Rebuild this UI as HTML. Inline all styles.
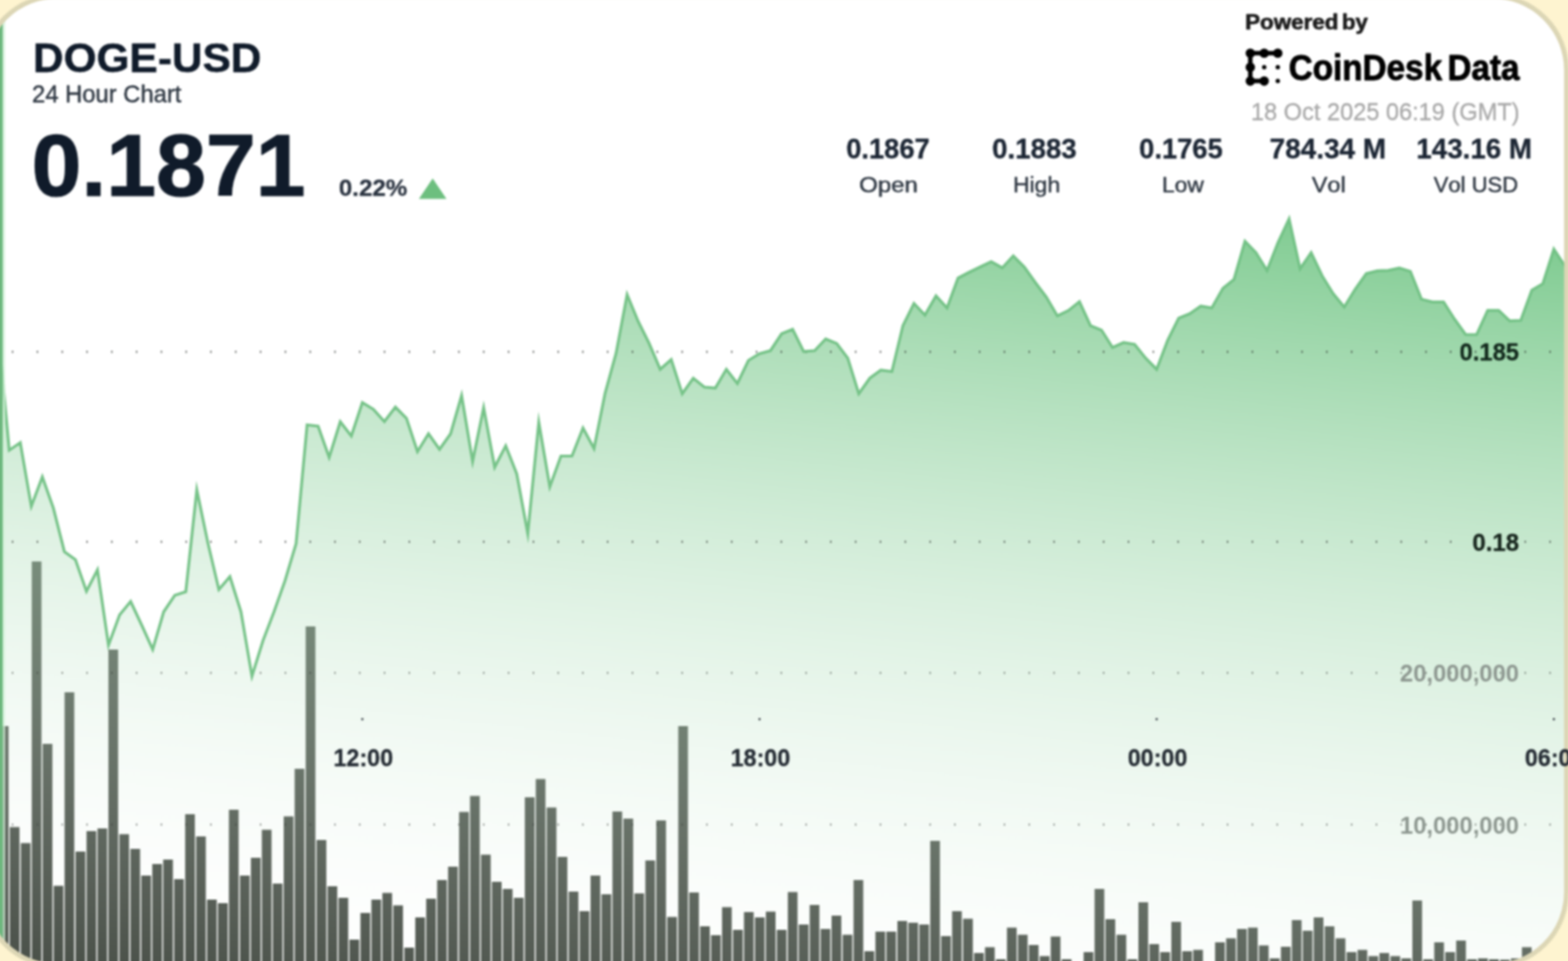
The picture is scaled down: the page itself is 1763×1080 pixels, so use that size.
<!DOCTYPE html>
<html lang="en">
<head>
<meta charset="utf-8">
<title>DOGE-USD 24 Hour Chart</title>
<style>
  html, body { margin: 0; padding: 0; }
  body { width: 1763px; height: 1080px; overflow: hidden; background: #fef4d0; }
  svg { display: block; }
  text { font-family: "Liberation Sans", sans-serif; font-kerning: none; }
  .b { font-weight: 700; }

</style>
</head>
<body>
<svg width="1763" height="1080" viewBox="0 0 1763 1080">
  <defs>
    <linearGradient id="areaFill" gradientUnits="userSpaceOnUse" x1="1448" y1="213" x2="1333.1" y2="1257.4">
      <stop offset="0" stop-color="#6ec482" stop-opacity="0.926"/>
      <stop offset="1" stop-color="#ffffff" stop-opacity="0"/>
    </linearGradient>
    <clipPath id="cardClip">
      <rect x="-17.2" y="-2.9" width="1777" height="1087" rx="81.8" ry="81.8"/>
    </clipPath>
    <filter id="soft" x="-5%" y="-5%" width="110%" height="110%" color-interpolation-filters="sRGB">
      <feGaussianBlur stdDeviation="0.9"/>
    </filter>
  </defs>

  <rect x="0" y="0" width="1763" height="1080" fill="#fef4d0"/>
  <g filter="url(#soft)">
  <rect x="-18.7" y="-4.4" width="1780" height="1090" rx="83.3" ry="83.3" fill="#ffffff"/>

  <g clip-path="url(#cardClip)">
    <g fill="#454c44"><rect x="-1.3" y="816" width="10.9" height="281"/><rect x="11" y="929.5" width="10.9" height="167.5"/><rect x="23.4" y="947.5" width="10.9" height="149.5"/><rect x="35.7" y="631" width="10.9" height="466"/><rect x="48" y="836" width="10.9" height="261"/><rect x="60.3" y="995.5" width="10.9" height="101.5"/><rect x="72.6" y="778" width="10.9" height="319"/><rect x="85" y="957" width="10.9" height="140"/><rect x="97.3" y="934" width="10.9" height="163"/><rect x="109.6" y="931" width="10.9" height="166"/><rect x="121.9" y="730" width="10.9" height="367"/><rect x="134.2" y="937.5" width="10.9" height="159.5"/><rect x="146.6" y="954" width="10.9" height="143"/><rect x="158.9" y="984" width="10.9" height="113"/><rect x="171.2" y="971" width="10.9" height="126"/><rect x="183.5" y="966" width="10.9" height="131"/><rect x="195.8" y="988" width="10.9" height="109"/><rect x="208.2" y="915" width="10.9" height="182"/><rect x="220.5" y="940" width="10.9" height="157"/><rect x="232.8" y="1011" width="10.9" height="86"/><rect x="245.1" y="1015" width="10.9" height="82"/><rect x="257.4" y="910" width="10.9" height="187"/><rect x="269.8" y="984" width="10.9" height="113"/><rect x="282.1" y="964" width="10.9" height="133"/><rect x="294.4" y="932.5" width="10.9" height="164.5"/><rect x="306.7" y="993" width="10.9" height="104"/><rect x="319" y="917.5" width="10.9" height="179.5"/><rect x="331.3" y="864" width="10.9" height="233"/><rect x="343.7" y="704" width="10.9" height="393"/><rect x="356" y="944" width="10.9" height="153"/><rect x="368.3" y="996" width="10.9" height="101"/><rect x="380.6" y="1009" width="10.9" height="88"/><rect x="392.9" y="1056" width="10.9" height="41"/><rect x="405.3" y="1026" width="10.9" height="71"/><rect x="417.6" y="1011" width="10.9" height="86"/><rect x="429.9" y="1003.5" width="10.9" height="93.5"/><rect x="442.2" y="1017.5" width="10.9" height="79.5"/><rect x="454.6" y="1065" width="10.9" height="32"/><rect x="466.9" y="1031" width="10.9" height="66"/><rect x="479.2" y="1010" width="10.9" height="87"/><rect x="491.5" y="989" width="10.9" height="108"/><rect x="503.8" y="974" width="10.9" height="123"/><rect x="516.2" y="912.5" width="10.9" height="184.5"/><rect x="528.5" y="894.5" width="10.9" height="202.5"/><rect x="540.8" y="960.5" width="10.9" height="136.5"/><rect x="553.1" y="991" width="10.9" height="106"/><rect x="565.4" y="999" width="10.9" height="98"/><rect x="577.8" y="1009" width="10.9" height="88"/><rect x="590.1" y="896" width="10.9" height="201"/><rect x="602.4" y="875.5" width="10.9" height="221.5"/><rect x="614.7" y="907.5" width="10.9" height="189.5"/><rect x="627" y="963" width="10.9" height="134"/><rect x="639.4" y="1002" width="10.9" height="95"/><rect x="651.7" y="1024" width="10.9" height="73"/><rect x="664" y="984" width="10.9" height="113"/><rect x="676.3" y="1005" width="10.9" height="92"/><rect x="688.6" y="912" width="10.9" height="185"/><rect x="701" y="920" width="10.9" height="177"/><rect x="713.3" y="1004" width="10.9" height="93"/><rect x="725.6" y="967" width="10.9" height="130"/><rect x="737.9" y="922" width="10.9" height="175"/><rect x="750.2" y="1030.5" width="10.9" height="66.5"/><rect x="762.6" y="816" width="10.9" height="281"/><rect x="774.9" y="1003" width="10.9" height="94"/><rect x="787.2" y="1041" width="10.9" height="56"/><rect x="799.5" y="1051" width="10.9" height="46"/><rect x="811.8" y="1019.5" width="10.9" height="77.5"/><rect x="824.2" y="1045" width="10.9" height="52"/><rect x="836.5" y="1025" width="10.9" height="72"/><rect x="848.8" y="1031" width="10.9" height="66"/><rect x="861.1" y="1024.5" width="10.9" height="72.5"/><rect x="873.4" y="1045" width="10.9" height="52"/><rect x="885.8" y="1002.5" width="10.9" height="94.5"/><rect x="898.1" y="1039" width="10.9" height="58"/><rect x="910.4" y="1017" width="10.9" height="80"/><rect x="922.7" y="1044" width="10.9" height="53"/><rect x="935" y="1029" width="10.9" height="68"/><rect x="947.4" y="1050.5" width="10.9" height="46.5"/><rect x="959.7" y="989" width="10.9" height="108"/><rect x="972" y="1069" width="10.9" height="28"/><rect x="984.3" y="1047" width="10.9" height="50"/><rect x="996.6" y="1047" width="10.9" height="50"/><rect x="1009" y="1035" width="10.9" height="62"/><rect x="1021.3" y="1037" width="10.9" height="60"/><rect x="1033.6" y="1039" width="10.9" height="58"/><rect x="1045.9" y="945" width="10.9" height="152"/><rect x="1058.2" y="1052" width="10.9" height="45"/><rect x="1070.5" y="1024" width="10.9" height="73"/><rect x="1082.9" y="1032.5" width="10.9" height="64.5"/><rect x="1095.2" y="1071" width="10.9" height="26"/><rect x="1107.5" y="1064.5" width="10.9" height="32.5"/><rect x="1119.8" y="1078" width="10.9" height="19"/><rect x="1132.2" y="1042.5" width="10.9" height="54.5"/><rect x="1144.5" y="1050.5" width="10.9" height="46.5"/><rect x="1156.8" y="1062" width="10.9" height="35"/><rect x="1169.1" y="1074.5" width="10.9" height="22.5"/><rect x="1181.4" y="1052.5" width="10.9" height="44.5"/><rect x="1193.8" y="1078" width="10.9" height="19"/><rect x="1218.4" y="1070" width="10.9" height="27"/><rect x="1230.7" y="999" width="10.9" height="98"/><rect x="1243" y="1033" width="10.9" height="64"/><rect x="1255.4" y="1050.5" width="10.9" height="46.5"/><rect x="1267.7" y="1078" width="10.9" height="19"/><rect x="1280" y="1014" width="10.9" height="83"/><rect x="1292.3" y="1061" width="10.9" height="36"/><rect x="1304.6" y="1070" width="10.9" height="27"/><rect x="1317" y="1036" width="10.9" height="61"/><rect x="1329.3" y="1069" width="10.9" height="28"/><rect x="1341.6" y="1067.5" width="10.9" height="29.5"/><rect x="1366.2" y="1059" width="10.9" height="38"/><rect x="1378.6" y="1054.5" width="10.9" height="42.5"/><rect x="1390.9" y="1044" width="10.9" height="53"/><rect x="1403.2" y="1042.5" width="10.9" height="54.5"/><rect x="1415.5" y="1062.5" width="10.9" height="34.5"/><rect x="1427.8" y="1077" width="10.9" height="20"/><rect x="1440.2" y="1064" width="10.9" height="33"/><rect x="1452.5" y="1034" width="10.9" height="63"/><rect x="1464.8" y="1046" width="10.9" height="51"/><rect x="1477.1" y="1031" width="10.9" height="66"/><rect x="1489.4" y="1041" width="10.9" height="56"/><rect x="1501.8" y="1054.5" width="10.9" height="42.5"/><rect x="1514.1" y="1070" width="10.9" height="27"/><rect x="1526.4" y="1067.5" width="10.9" height="29.5"/><rect x="1538.7" y="1074.5" width="10.9" height="22.5"/><rect x="1551" y="1071" width="10.9" height="26"/><rect x="1563.4" y="1074.5" width="10.9" height="22.5"/><rect x="1575.7" y="1077" width="10.9" height="20"/><rect x="1588" y="1012" width="10.9" height="85"/><rect x="1600.3" y="1078" width="10.9" height="19"/><rect x="1612.6" y="1059" width="10.9" height="38"/><rect x="1625" y="1070" width="10.9" height="27"/><rect x="1637.3" y="1057" width="10.9" height="40"/><rect x="1649.6" y="1078" width="10.9" height="19"/><rect x="1661.9" y="1077" width="10.9" height="20"/><rect x="1674.2" y="1078" width="10.9" height="19"/><rect x="1686.6" y="1078.5" width="10.9" height="18.5"/><rect x="1698.9" y="1077" width="10.9" height="20"/><rect x="1711.2" y="1064.5" width="10.9" height="32.5"/><rect x="1723.5" y="1075" width="10.9" height="22"/><rect x="1735.8" y="1070" width="10.9" height="27"/><rect x="1748.2" y="1060" width="10.9" height="37"/><rect x="1760.5" y="1050" width="10.9" height="47"/></g>
    <path d="M-2 372 L10.4 506 L22.8 497.5 L35.2 569 L47.6 536 L60 571 L72.4 620 L84.8 629 L97.2 664.5 L109.6 640.5 L122 725 L134.5 691 L146.9 676 L159.3 702.5 L171.7 730 L184.1 687.5 L196.5 669 L208.9 665 L221.3 550.5 L233.7 610 L246.1 662.5 L258.5 648 L270.9 687.5 L283.3 760 L295.7 720 L308.1 687.5 L320.5 652.5 L332.9 611 L345.3 477.5 L357.7 479 L370.1 514 L382.6 474 L395 490 L407.4 452.5 L419.8 460 L432.2 473.8 L444.6 457.5 L457 470 L469.4 507.5 L481.8 487.5 L494.2 505 L506.6 487.5 L519 444.5 L531.4 518.5 L543.8 458 L556.2 525 L568.6 501 L581 532.5 L593.4 599.5 L605.8 474.5 L618.2 547 L630.7 512.5 L643.1 512.5 L655.5 481 L667.9 504 L680.3 442 L692.7 397 L705.1 331 L717.5 361 L729.9 386 L742.3 415 L754.7 404 L767.1 442.5 L779.5 425 L791.9 435 L804.3 436 L816.7 415 L829.1 431 L841.5 405 L853.9 397.5 L866.3 394 L878.8 375 L891.2 370 L903.6 395 L916 394 L928.4 381 L940.8 386 L953.2 402.5 L965.6 442.5 L978 425 L990.4 416 L1002.8 417.5 L1015.2 366 L1027.6 341 L1040 354 L1052.4 332.5 L1064.8 346 L1077.2 312.5 L1089.6 306 L1102 300 L1114.5 294 L1126.9 301 L1139.3 287.5 L1151.7 300 L1164.1 317.5 L1176.5 334 L1188.9 355 L1201.3 349 L1213.7 339 L1226.1 366 L1238.5 371 L1250.9 390.5 L1263.3 385 L1275.7 387 L1288.1 402.5 L1300.5 415 L1312.9 382.5 L1325.3 357.5 L1337.7 352.5 L1350.1 344 L1362.5 346 L1375 324 L1387.4 314 L1399.8 271 L1412.2 284 L1424.6 304 L1437 272.5 L1449.4 246 L1461.8 302 L1474.2 284 L1486.6 310 L1499 330 L1511.4 345 L1523.8 325 L1536.2 307.5 L1548.6 304.4 L1561 303.8 L1573.4 301.2 L1585.8 305 L1598.2 336.2 L1610.6 339.4 L1623.1 339.4 L1635.5 358.8 L1647.9 376 L1660.3 376 L1672.7 348.8 L1685.1 348.8 L1697.5 360.6 L1709.9 360 L1722.3 326.2 L1734.7 318.8 L1747.1 280 L1759.5 298.8 L1771.9 310 L1771.9 1100 L-2 1100 Z" fill="url(#areaFill)"/>
    <g fill="#2c302d" opacity="0.78"><rect x="13.5" y="394.2" width="1.4" height="2.4"/><rect x="41.4" y="394.2" width="1.4" height="2.4"/><rect x="69.3" y="394.2" width="1.4" height="2.4"/><rect x="97.1" y="394.2" width="1.4" height="2.4"/><rect x="125" y="394.2" width="1.4" height="2.4"/><rect x="152.9" y="394.2" width="1.4" height="2.4"/><rect x="180.8" y="394.2" width="1.4" height="2.4"/><rect x="208.7" y="394.2" width="1.4" height="2.4"/><rect x="236.5" y="394.2" width="1.4" height="2.4"/><rect x="264.4" y="394.2" width="1.4" height="2.4"/><rect x="292.3" y="394.2" width="1.4" height="2.4"/><rect x="320.2" y="394.2" width="1.4" height="2.4"/><rect x="348.1" y="394.2" width="1.4" height="2.4"/><rect x="375.9" y="394.2" width="1.4" height="2.4"/><rect x="403.8" y="394.2" width="1.4" height="2.4"/><rect x="431.7" y="394.2" width="1.4" height="2.4"/><rect x="459.6" y="394.2" width="1.4" height="2.4"/><rect x="487.5" y="394.2" width="1.4" height="2.4"/><rect x="515.3" y="394.2" width="1.4" height="2.4"/><rect x="543.2" y="394.2" width="1.4" height="2.4"/><rect x="571.1" y="394.2" width="1.4" height="2.4"/><rect x="599" y="394.2" width="1.4" height="2.4"/><rect x="626.9" y="394.2" width="1.4" height="2.4"/><rect x="654.7" y="394.2" width="1.4" height="2.4"/><rect x="682.6" y="394.2" width="1.4" height="2.4"/><rect x="710.5" y="394.2" width="1.4" height="2.4"/><rect x="738.4" y="394.2" width="1.4" height="2.4"/><rect x="766.3" y="394.2" width="1.4" height="2.4"/><rect x="794.1" y="394.2" width="1.4" height="2.4"/><rect x="822" y="394.2" width="1.4" height="2.4"/><rect x="849.9" y="394.2" width="1.4" height="2.4"/><rect x="877.8" y="394.2" width="1.4" height="2.4"/><rect x="905.7" y="394.2" width="1.4" height="2.4"/><rect x="933.5" y="394.2" width="1.4" height="2.4"/><rect x="961.4" y="394.2" width="1.4" height="2.4"/><rect x="989.3" y="394.2" width="1.4" height="2.4"/><rect x="1017.2" y="394.2" width="1.4" height="2.4"/><rect x="1045.1" y="394.2" width="1.4" height="2.4"/><rect x="1072.9" y="394.2" width="1.4" height="2.4"/><rect x="1100.8" y="394.2" width="1.4" height="2.4"/><rect x="1128.7" y="394.2" width="1.4" height="2.4"/><rect x="1156.6" y="394.2" width="1.4" height="2.4"/><rect x="1184.5" y="394.2" width="1.4" height="2.4"/><rect x="1212.3" y="394.2" width="1.4" height="2.4"/><rect x="1240.2" y="394.2" width="1.4" height="2.4"/><rect x="1268.1" y="394.2" width="1.4" height="2.4"/><rect x="1296" y="394.2" width="1.4" height="2.4"/><rect x="1323.9" y="394.2" width="1.4" height="2.4"/><rect x="1351.7" y="394.2" width="1.4" height="2.4"/><rect x="1379.6" y="394.2" width="1.4" height="2.4"/><rect x="1407.5" y="394.2" width="1.4" height="2.4"/><rect x="1435.4" y="394.2" width="1.4" height="2.4"/><rect x="1463.3" y="394.2" width="1.4" height="2.4"/><rect x="1491.1" y="394.2" width="1.4" height="2.4"/><rect x="1519" y="394.2" width="1.4" height="2.4"/><rect x="1546.9" y="394.2" width="1.4" height="2.4"/><rect x="1574.8" y="394.2" width="1.4" height="2.4"/><rect x="1602.7" y="394.2" width="1.4" height="2.4"/><rect x="1630.5" y="394.2" width="1.4" height="2.4"/><rect x="1658.4" y="394.2" width="1.4" height="2.4"/><rect x="1686.3" y="394.2" width="1.4" height="2.4"/><rect x="1714.2" y="394.2" width="1.4" height="2.4"/><rect x="1742.1" y="394.2" width="1.4" height="2.4"/></g>
    <g fill="#2c302d" opacity="0.78"><rect x="13.5" y="607.7" width="1.4" height="2.4"/><rect x="41.4" y="607.7" width="1.4" height="2.4"/><rect x="69.3" y="607.7" width="1.4" height="2.4"/><rect x="97.1" y="607.7" width="1.4" height="2.4"/><rect x="125" y="607.7" width="1.4" height="2.4"/><rect x="152.9" y="607.7" width="1.4" height="2.4"/><rect x="180.8" y="607.7" width="1.4" height="2.4"/><rect x="208.7" y="607.7" width="1.4" height="2.4"/><rect x="236.5" y="607.7" width="1.4" height="2.4"/><rect x="264.4" y="607.7" width="1.4" height="2.4"/><rect x="292.3" y="607.7" width="1.4" height="2.4"/><rect x="320.2" y="607.7" width="1.4" height="2.4"/><rect x="348.1" y="607.7" width="1.4" height="2.4"/><rect x="375.9" y="607.7" width="1.4" height="2.4"/><rect x="403.8" y="607.7" width="1.4" height="2.4"/><rect x="431.7" y="607.7" width="1.4" height="2.4"/><rect x="459.6" y="607.7" width="1.4" height="2.4"/><rect x="487.5" y="607.7" width="1.4" height="2.4"/><rect x="515.3" y="607.7" width="1.4" height="2.4"/><rect x="543.2" y="607.7" width="1.4" height="2.4"/><rect x="571.1" y="607.7" width="1.4" height="2.4"/><rect x="599" y="607.7" width="1.4" height="2.4"/><rect x="626.9" y="607.7" width="1.4" height="2.4"/><rect x="654.7" y="607.7" width="1.4" height="2.4"/><rect x="682.6" y="607.7" width="1.4" height="2.4"/><rect x="710.5" y="607.7" width="1.4" height="2.4"/><rect x="738.4" y="607.7" width="1.4" height="2.4"/><rect x="766.3" y="607.7" width="1.4" height="2.4"/><rect x="794.1" y="607.7" width="1.4" height="2.4"/><rect x="822" y="607.7" width="1.4" height="2.4"/><rect x="849.9" y="607.7" width="1.4" height="2.4"/><rect x="877.8" y="607.7" width="1.4" height="2.4"/><rect x="905.7" y="607.7" width="1.4" height="2.4"/><rect x="933.5" y="607.7" width="1.4" height="2.4"/><rect x="961.4" y="607.7" width="1.4" height="2.4"/><rect x="989.3" y="607.7" width="1.4" height="2.4"/><rect x="1017.2" y="607.7" width="1.4" height="2.4"/><rect x="1045.1" y="607.7" width="1.4" height="2.4"/><rect x="1072.9" y="607.7" width="1.4" height="2.4"/><rect x="1100.8" y="607.7" width="1.4" height="2.4"/><rect x="1128.7" y="607.7" width="1.4" height="2.4"/><rect x="1156.6" y="607.7" width="1.4" height="2.4"/><rect x="1184.5" y="607.7" width="1.4" height="2.4"/><rect x="1212.3" y="607.7" width="1.4" height="2.4"/><rect x="1240.2" y="607.7" width="1.4" height="2.4"/><rect x="1268.1" y="607.7" width="1.4" height="2.4"/><rect x="1296" y="607.7" width="1.4" height="2.4"/><rect x="1323.9" y="607.7" width="1.4" height="2.4"/><rect x="1351.7" y="607.7" width="1.4" height="2.4"/><rect x="1379.6" y="607.7" width="1.4" height="2.4"/><rect x="1407.5" y="607.7" width="1.4" height="2.4"/><rect x="1435.4" y="607.7" width="1.4" height="2.4"/><rect x="1463.3" y="607.7" width="1.4" height="2.4"/><rect x="1491.1" y="607.7" width="1.4" height="2.4"/><rect x="1519" y="607.7" width="1.4" height="2.4"/><rect x="1546.9" y="607.7" width="1.4" height="2.4"/><rect x="1574.8" y="607.7" width="1.4" height="2.4"/><rect x="1602.7" y="607.7" width="1.4" height="2.4"/><rect x="1630.5" y="607.7" width="1.4" height="2.4"/><rect x="1658.4" y="607.7" width="1.4" height="2.4"/><rect x="1686.3" y="607.7" width="1.4" height="2.4"/><rect x="1714.2" y="607.7" width="1.4" height="2.4"/><rect x="1742.1" y="607.7" width="1.4" height="2.4"/></g>
    <g fill="#353a36" opacity="0.6"><rect x="13.5" y="755" width="1.4" height="2.4"/><rect x="41.4" y="755" width="1.4" height="2.4"/><rect x="69.3" y="755" width="1.4" height="2.4"/><rect x="97.1" y="755" width="1.4" height="2.4"/><rect x="125" y="755" width="1.4" height="2.4"/><rect x="152.9" y="755" width="1.4" height="2.4"/><rect x="180.8" y="755" width="1.4" height="2.4"/><rect x="208.7" y="755" width="1.4" height="2.4"/><rect x="236.5" y="755" width="1.4" height="2.4"/><rect x="264.4" y="755" width="1.4" height="2.4"/><rect x="292.3" y="755" width="1.4" height="2.4"/><rect x="320.2" y="755" width="1.4" height="2.4"/><rect x="348.1" y="755" width="1.4" height="2.4"/><rect x="375.9" y="755" width="1.4" height="2.4"/><rect x="403.8" y="755" width="1.4" height="2.4"/><rect x="431.7" y="755" width="1.4" height="2.4"/><rect x="459.6" y="755" width="1.4" height="2.4"/><rect x="487.5" y="755" width="1.4" height="2.4"/><rect x="515.3" y="755" width="1.4" height="2.4"/><rect x="543.2" y="755" width="1.4" height="2.4"/><rect x="571.1" y="755" width="1.4" height="2.4"/><rect x="599" y="755" width="1.4" height="2.4"/><rect x="626.9" y="755" width="1.4" height="2.4"/><rect x="654.7" y="755" width="1.4" height="2.4"/><rect x="682.6" y="755" width="1.4" height="2.4"/><rect x="710.5" y="755" width="1.4" height="2.4"/><rect x="738.4" y="755" width="1.4" height="2.4"/><rect x="766.3" y="755" width="1.4" height="2.4"/><rect x="794.1" y="755" width="1.4" height="2.4"/><rect x="822" y="755" width="1.4" height="2.4"/><rect x="849.9" y="755" width="1.4" height="2.4"/><rect x="877.8" y="755" width="1.4" height="2.4"/><rect x="905.7" y="755" width="1.4" height="2.4"/><rect x="933.5" y="755" width="1.4" height="2.4"/><rect x="961.4" y="755" width="1.4" height="2.4"/><rect x="989.3" y="755" width="1.4" height="2.4"/><rect x="1017.2" y="755" width="1.4" height="2.4"/><rect x="1045.1" y="755" width="1.4" height="2.4"/><rect x="1072.9" y="755" width="1.4" height="2.4"/><rect x="1100.8" y="755" width="1.4" height="2.4"/><rect x="1128.7" y="755" width="1.4" height="2.4"/><rect x="1156.6" y="755" width="1.4" height="2.4"/><rect x="1184.5" y="755" width="1.4" height="2.4"/><rect x="1212.3" y="755" width="1.4" height="2.4"/><rect x="1240.2" y="755" width="1.4" height="2.4"/><rect x="1268.1" y="755" width="1.4" height="2.4"/><rect x="1296" y="755" width="1.4" height="2.4"/><rect x="1323.9" y="755" width="1.4" height="2.4"/><rect x="1351.7" y="755" width="1.4" height="2.4"/><rect x="1379.6" y="755" width="1.4" height="2.4"/><rect x="1407.5" y="755" width="1.4" height="2.4"/><rect x="1435.4" y="755" width="1.4" height="2.4"/><rect x="1463.3" y="755" width="1.4" height="2.4"/><rect x="1491.1" y="755" width="1.4" height="2.4"/><rect x="1519" y="755" width="1.4" height="2.4"/><rect x="1546.9" y="755" width="1.4" height="2.4"/><rect x="1574.8" y="755" width="1.4" height="2.4"/><rect x="1602.7" y="755" width="1.4" height="2.4"/><rect x="1630.5" y="755" width="1.4" height="2.4"/><rect x="1658.4" y="755" width="1.4" height="2.4"/><rect x="1686.3" y="755" width="1.4" height="2.4"/><rect x="1714.2" y="755" width="1.4" height="2.4"/><rect x="1742.1" y="755" width="1.4" height="2.4"/></g>
    <g fill="#353a36" opacity="0.6"><rect x="13.5" y="925.5" width="1.4" height="2.4"/><rect x="41.4" y="925.5" width="1.4" height="2.4"/><rect x="69.3" y="925.5" width="1.4" height="2.4"/><rect x="97.1" y="925.5" width="1.4" height="2.4"/><rect x="125" y="925.5" width="1.4" height="2.4"/><rect x="152.9" y="925.5" width="1.4" height="2.4"/><rect x="180.8" y="925.5" width="1.4" height="2.4"/><rect x="208.7" y="925.5" width="1.4" height="2.4"/><rect x="236.5" y="925.5" width="1.4" height="2.4"/><rect x="264.4" y="925.5" width="1.4" height="2.4"/><rect x="292.3" y="925.5" width="1.4" height="2.4"/><rect x="320.2" y="925.5" width="1.4" height="2.4"/><rect x="348.1" y="925.5" width="1.4" height="2.4"/><rect x="375.9" y="925.5" width="1.4" height="2.4"/><rect x="403.8" y="925.5" width="1.4" height="2.4"/><rect x="431.7" y="925.5" width="1.4" height="2.4"/><rect x="459.6" y="925.5" width="1.4" height="2.4"/><rect x="487.5" y="925.5" width="1.4" height="2.4"/><rect x="515.3" y="925.5" width="1.4" height="2.4"/><rect x="543.2" y="925.5" width="1.4" height="2.4"/><rect x="571.1" y="925.5" width="1.4" height="2.4"/><rect x="599" y="925.5" width="1.4" height="2.4"/><rect x="626.9" y="925.5" width="1.4" height="2.4"/><rect x="654.7" y="925.5" width="1.4" height="2.4"/><rect x="682.6" y="925.5" width="1.4" height="2.4"/><rect x="710.5" y="925.5" width="1.4" height="2.4"/><rect x="738.4" y="925.5" width="1.4" height="2.4"/><rect x="766.3" y="925.5" width="1.4" height="2.4"/><rect x="794.1" y="925.5" width="1.4" height="2.4"/><rect x="822" y="925.5" width="1.4" height="2.4"/><rect x="849.9" y="925.5" width="1.4" height="2.4"/><rect x="877.8" y="925.5" width="1.4" height="2.4"/><rect x="905.7" y="925.5" width="1.4" height="2.4"/><rect x="933.5" y="925.5" width="1.4" height="2.4"/><rect x="961.4" y="925.5" width="1.4" height="2.4"/><rect x="989.3" y="925.5" width="1.4" height="2.4"/><rect x="1017.2" y="925.5" width="1.4" height="2.4"/><rect x="1045.1" y="925.5" width="1.4" height="2.4"/><rect x="1072.9" y="925.5" width="1.4" height="2.4"/><rect x="1100.8" y="925.5" width="1.4" height="2.4"/><rect x="1128.7" y="925.5" width="1.4" height="2.4"/><rect x="1156.6" y="925.5" width="1.4" height="2.4"/><rect x="1184.5" y="925.5" width="1.4" height="2.4"/><rect x="1212.3" y="925.5" width="1.4" height="2.4"/><rect x="1240.2" y="925.5" width="1.4" height="2.4"/><rect x="1268.1" y="925.5" width="1.4" height="2.4"/><rect x="1296" y="925.5" width="1.4" height="2.4"/><rect x="1323.9" y="925.5" width="1.4" height="2.4"/><rect x="1351.7" y="925.5" width="1.4" height="2.4"/><rect x="1379.6" y="925.5" width="1.4" height="2.4"/><rect x="1407.5" y="925.5" width="1.4" height="2.4"/><rect x="1435.4" y="925.5" width="1.4" height="2.4"/><rect x="1463.3" y="925.5" width="1.4" height="2.4"/><rect x="1491.1" y="925.5" width="1.4" height="2.4"/><rect x="1519" y="925.5" width="1.4" height="2.4"/><rect x="1546.9" y="925.5" width="1.4" height="2.4"/><rect x="1574.8" y="925.5" width="1.4" height="2.4"/><rect x="1602.7" y="925.5" width="1.4" height="2.4"/><rect x="1630.5" y="925.5" width="1.4" height="2.4"/><rect x="1658.4" y="925.5" width="1.4" height="2.4"/><rect x="1686.3" y="925.5" width="1.4" height="2.4"/><rect x="1714.2" y="925.5" width="1.4" height="2.4"/><rect x="1742.1" y="925.5" width="1.4" height="2.4"/></g>
    <path d="M-2 372 L10.4 506 L22.8 497.5 L35.2 569 L47.6 536 L60 571 L72.4 620 L84.8 629 L97.2 664.5 L109.6 640.5 L122 725 L134.5 691 L146.9 676 L159.3 702.5 L171.7 730 L184.1 687.5 L196.5 669 L208.9 665 L221.3 550.5 L233.7 610 L246.1 662.5 L258.5 648 L270.9 687.5 L283.3 760 L295.7 720 L308.1 687.5 L320.5 652.5 L332.9 611 L345.3 477.5 L357.7 479 L370.1 514 L382.6 474 L395 490 L407.4 452.5 L419.8 460 L432.2 473.8 L444.6 457.5 L457 470 L469.4 507.5 L481.8 487.5 L494.2 505 L506.6 487.5 L519 444.5 L531.4 518.5 L543.8 458 L556.2 525 L568.6 501 L581 532.5 L593.4 599.5 L605.8 474.5 L618.2 547 L630.7 512.5 L643.1 512.5 L655.5 481 L667.9 504 L680.3 442 L692.7 397 L705.1 331 L717.5 361 L729.9 386 L742.3 415 L754.7 404 L767.1 442.5 L779.5 425 L791.9 435 L804.3 436 L816.7 415 L829.1 431 L841.5 405 L853.9 397.5 L866.3 394 L878.8 375 L891.2 370 L903.6 395 L916 394 L928.4 381 L940.8 386 L953.2 402.5 L965.6 442.5 L978 425 L990.4 416 L1002.8 417.5 L1015.2 366 L1027.6 341 L1040 354 L1052.4 332.5 L1064.8 346 L1077.2 312.5 L1089.6 306 L1102 300 L1114.5 294 L1126.9 301 L1139.3 287.5 L1151.7 300 L1164.1 317.5 L1176.5 334 L1188.9 355 L1201.3 349 L1213.7 339 L1226.1 366 L1238.5 371 L1250.9 390.5 L1263.3 385 L1275.7 387 L1288.1 402.5 L1300.5 415 L1312.9 382.5 L1325.3 357.5 L1337.7 352.5 L1350.1 344 L1362.5 346 L1375 324 L1387.4 314 L1399.8 271 L1412.2 284 L1424.6 304 L1437 272.5 L1449.4 246 L1461.8 302 L1474.2 284 L1486.6 310 L1499 330 L1511.4 345 L1523.8 325 L1536.2 307.5 L1548.6 304.4 L1561 303.8 L1573.4 301.2 L1585.8 305 L1598.2 336.2 L1610.6 339.4 L1623.1 339.4 L1635.5 358.8 L1647.9 376 L1660.3 376 L1672.7 348.8 L1685.1 348.8 L1697.5 360.6 L1709.9 360 L1722.3 326.2 L1734.7 318.8 L1747.1 280 L1759.5 298.8 L1771.9 310" fill="none" stroke="#70c083" stroke-opacity="0.95" stroke-width="3.2" stroke-linejoin="miter" stroke-miterlimit="10"/>
    <rect x="-4" y="0" width="7.3" height="1080" fill="#6cb77d"/>
    <rect x="3.3" y="0" width="2.5" height="1080" fill="#d4f2da" opacity="0.8"/>
  </g>
  <rect x="-18.7" y="-4.4" width="1780" height="1090" rx="83.3" ry="83.3" fill="none" stroke="#dcd6b5" stroke-width="5.4"/>

  <!-- x axis ticks + labels -->
  <g fill="#3a4048">
    <rect x="406.3" y="807" width="2.2" height="2.4"/>
    <rect x="852.9" y="807" width="2.2" height="2.4"/>
    <rect x="1299.4" y="807" width="2.2" height="2.4"/>
    <rect x="1746" y="807" width="2.2" height="2.4"/>
  </g>
  <text x="375" y="861" font-size="28" fill="#242b33" class="b" stroke="#242b33" stroke-width="0.3" stroke-linejoin="round" textLength="67" lengthAdjust="spacingAndGlyphs">12:00</text>
  <text x="821.5" y="861" font-size="28" fill="#242b33" class="b" stroke="#242b33" stroke-width="0.3" stroke-linejoin="round" textLength="67" lengthAdjust="spacingAndGlyphs">18:00</text>
  <text x="1268" y="861" font-size="28" fill="#242b33" class="b" stroke="#242b33" stroke-width="0.3" stroke-linejoin="round" textLength="67" lengthAdjust="spacingAndGlyphs">00:00</text>
  <text x="1714.5" y="861" font-size="28" fill="#242b33" class="b" stroke="#242b33" stroke-width="0.3" stroke-linejoin="round" textLength="67" lengthAdjust="spacingAndGlyphs">06:00</text>
  <text x="1641" y="405.2" font-size="28" fill="#12281c" class="b" stroke="#12281c" stroke-width="0.3" stroke-linejoin="round" textLength="67" lengthAdjust="spacingAndGlyphs">0.185</text>
  <text x="1655.5" y="619.2" font-size="28" fill="#16241c" class="b" stroke="#16241c" stroke-width="0.3" stroke-linejoin="round" textLength="52.5" lengthAdjust="spacingAndGlyphs">0.18</text>
  <text x="1574" y="766" font-size="27" fill="#8d9790" class="b" textLength="134" lengthAdjust="spacingAndGlyphs">20,000,000</text>
  <text x="1574" y="937" font-size="27" fill="#8d9790" class="b" textLength="134" lengthAdjust="spacingAndGlyphs">10,000,000</text>
  <text x="37" y="81.3" font-size="46.5" fill="#101b2a" class="b" stroke="#101b2a" stroke-width="0.5" stroke-linejoin="round" textLength="257" lengthAdjust="spacingAndGlyphs">DOGE-USD</text>
  <text x="36" y="115.4" font-size="27.5" fill="#2f3843" stroke="#2f3843" stroke-width="0.45" stroke-linejoin="round" textLength="168" lengthAdjust="spacingAndGlyphs">24 Hour Chart</text>
  <text x="35.5" y="219.5" font-size="99" fill="#101b2a" class="b" stroke="#101b2a" stroke-width="1.2" stroke-linejoin="round" textLength="308" lengthAdjust="spacingAndGlyphs">0.1871</text>
  <text x="381" y="219.5" font-size="26" fill="#2a3340" class="b" stroke="#2a3340" stroke-width="0.3" stroke-linejoin="round" textLength="77" lengthAdjust="spacingAndGlyphs">0.22%</text>
  <text style="word-spacing:-3px" x="1400" y="32.7" font-size="24.2" fill="#1c1c1c" class="b" stroke="#1c1c1c" stroke-width="0.7" stroke-linejoin="round" textLength="138" lengthAdjust="spacingAndGlyphs">Powered by</text>
  <text style="word-spacing:-4.6px" x="1449" y="90" font-size="40" fill="#000000" class="b" stroke="#000000" stroke-width="0.9" stroke-linejoin="round" textLength="259.6" lengthAdjust="spacingAndGlyphs">CoinDesk Data</text>
  <text x="1406.5" y="135.4" font-size="27" fill="#a8a8a8" stroke="#a8a8a8" stroke-width="0.3" stroke-linejoin="round" textLength="302" lengthAdjust="spacingAndGlyphs">18 Oct 2025 06:19 (GMT)</text>
  <text x="951.4" y="178.4" font-size="31" fill="#1c2634" class="b" stroke="#1c2634" stroke-width="0.35" stroke-linejoin="round" textLength="94" lengthAdjust="spacingAndGlyphs">0.1867</text>
  <text x="1115.5" y="178.4" font-size="31" fill="#1c2634" class="b" stroke="#1c2634" stroke-width="0.35" stroke-linejoin="round" textLength="95" lengthAdjust="spacingAndGlyphs">0.1883</text>
  <text x="1280.8" y="178.4" font-size="31" fill="#1c2634" class="b" stroke="#1c2634" stroke-width="0.35" stroke-linejoin="round" textLength="94" lengthAdjust="spacingAndGlyphs">0.1765</text>
  <text x="1427.5" y="178.4" font-size="31" fill="#1c2634" class="b" stroke="#1c2634" stroke-width="0.35" stroke-linejoin="round" textLength="131" lengthAdjust="spacingAndGlyphs">784.34 M</text>
  <text x="1592.5" y="178.4" font-size="31" fill="#1c2634" class="b" stroke="#1c2634" stroke-width="0.35" stroke-linejoin="round" textLength="130" lengthAdjust="spacingAndGlyphs">143.16 M</text>
  <text x="966" y="216.2" font-size="24.6" fill="#2f3843" stroke="#2f3843" stroke-width="0.5" stroke-linejoin="round" textLength="66" lengthAdjust="spacingAndGlyphs">Open</text>
  <text x="1139" y="216.2" font-size="24.6" fill="#2f3843" stroke="#2f3843" stroke-width="0.5" stroke-linejoin="round" textLength="53" lengthAdjust="spacingAndGlyphs">High</text>
  <text x="1306.5" y="216.2" font-size="24.6" fill="#2f3843" stroke="#2f3843" stroke-width="0.5" stroke-linejoin="round" textLength="47" lengthAdjust="spacingAndGlyphs">Low</text>
  <text x="1475" y="216.2" font-size="24.6" fill="#2f3843" stroke="#2f3843" stroke-width="0.5" stroke-linejoin="round" textLength="38" lengthAdjust="spacingAndGlyphs">Vol</text>
  <text x="1612" y="216.2" font-size="24.6" fill="#2f3843" stroke="#2f3843" stroke-width="0.5" stroke-linejoin="round" textLength="95" lengthAdjust="spacingAndGlyphs">Vol USD</text>
  <path d="M471 223.5 L502 223.5 L486.5 200.5 Z" fill="#6dbf7f"/>
  <g fill="#000000">
    <path d="M1436.7 59.7 L1405.8 59.7 L1405.8 91.1 L1421.4 91.1" fill="none" stroke="#000000" stroke-width="5" stroke-linecap="round" stroke-linejoin="round"/>
    <circle cx="1405.8" cy="59.7" r="5.3"/>
    <circle cx="1421.4" cy="59.7" r="5.3"/>
    <circle cx="1436.7" cy="59.7" r="5.3"/>
    <circle cx="1405.8" cy="75.6" r="5.3"/>
    <circle cx="1405.8" cy="91.1" r="5.3"/>
    <circle cx="1421.4" cy="91.1" r="5.3"/>
    <circle cx="1421.4" cy="75.6" r="2.5"/>
    <circle cx="1436.7" cy="75.6" r="2.5"/>
    <circle cx="1436.7" cy="91.1" r="2.5"/>
  </g>
  </g>
</svg>
</body>
</html>
